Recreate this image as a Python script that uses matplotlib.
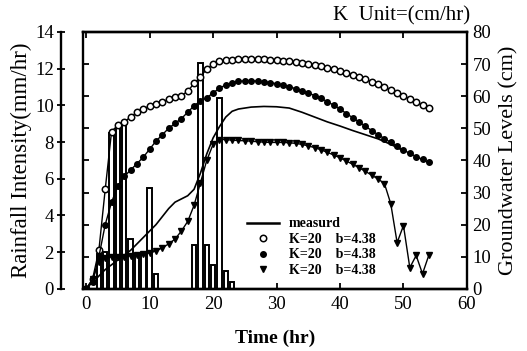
import matplotlib
matplotlib.use("Agg")
import matplotlib.pyplot as plt
from matplotlib.lines import Line2D

plt.rcParams["font.family"] = ["Liberation Serif", "DejaVu Serif"]

# Hourly rainfall (mm/hr)
rain_hours = [2, 3, 4, 5, 6, 7, 8, 9, 10, 11, 17, 18, 19, 20, 21, 22, 23]
rain_mm = [1.9, 2.0, 8.5, 8.9, 9.1, 2.7, 1.9, 1.9, 5.5, 0.8,
           2.4, 12.3, 2.4, 1.3, 10.4, 1.0, 0.4]

# Measured groundwater level (cm)
meas_t = [1, 2, 3, 4, 5, 6, 7, 8, 9, 10, 11, 12, 13, 14, 15, 16, 17, 18, 19,
          20, 21, 22, 23, 24, 26, 28, 30, 32, 34, 36, 38, 40, 42, 44, 46, 48, 50]
meas_gw = [2, 4, 6, 7.5, 9, 10.5, 12, 14, 16, 18, 20, 22.5, 25, 27, 28, 29,
           31, 36, 42, 47, 50.5, 53.5, 55.3, 56, 56.6, 56.8, 56.7, 56.3, 55,
           53.5, 52, 50.7, 49.3, 48, 46.7, 45, 43]

# Simulated groundwater levels (cm), hourly from t = 0
sim_t = list(range(0, 55))
sim_open = [0, 3, 12, 31, 49, 51, 52, 53.5, 55, 56, 57, 57.7, 58.3, 59, 59.6,
            60.2, 61.5, 64, 66, 68.5, 70, 70.8, 71.2, 71.4, 71.5, 71.6, 71.6,
            71.6, 71.5, 71.4, 71.3, 71.1, 70.9, 70.7, 70.4, 70.1, 69.7, 69.3,
            68.9, 68.4, 67.9, 67.3, 66.7, 66, 65.3, 64.5, 63.7, 62.9, 62, 61.1,
            60.1, 59.2, 58.2, 57.2, 56.2]
sim_fill = [0, 2, 10, 20, 27, 32, 35, 37, 39, 41, 43.5, 46, 48, 50, 51.5, 53,
            55, 57, 58.5, 59.5, 61, 62.5, 63.5, 64.2, 64.6, 64.8, 64.8, 64.7,
            64.5, 64.2, 63.9, 63.5, 63.0, 62.3, 61.7, 61, 60.2, 59.3, 58.3,
            57.2, 56, 54.6, 53.3, 52, 50.6, 49.3, 48, 46.8, 45.6, 44.4, 43.2,
            42.2, 41.2, 40.3, 39.4]
sim_tri = [0, 3, 8.5, 9.5, 10, 10, 10, 10.3, 10.5, 10.8, 11.2, 11.8, 12.8, 14,
           15.5, 18, 21, 26, 33, 40, 45, 46.5, 46.5, 46.3, 46.2, 46.1, 46,
           45.8, 45.7, 45.6, 45.6, 45.6, 45.5, 45.3, 45, 44.5, 44, 43.3, 42.5,
           41.7, 40.8, 39.8, 38.8, 37.7, 36.6, 35.4, 34.2, 32.8, 26.5, 14.4,
           19.7, 6.6, 10.4, 4.7, 10.5]

legend_labels = ["measurd", "K=20    b=4.38", "K=20    b=4.38",
                 "K=20    b=4.38"]

x_ticks = [0, 10, 20, 30, 40, 50, 60]
rain_ticks = [0, 2, 4, 6, 8, 10, 12, 14]
gw_ticks = [0, 10, 20, 30, 40, 50, 60, 70, 80]

fig = plt.figure(figsize=(5.27, 3.51), dpi=100)
ax = fig.add_axes([0.1575, 0.177, 0.7285, 0.732])
ax2 = ax.twinx()

# Rainfall bars (hollow)
ax.bar(rain_hours, rain_mm, width=0.7, facecolor="white", edgecolor="black",
       linewidth=1.4, zorder=2)
ax.set_xlim(-0.5, 60)
ax.set_ylim(0, 14)
ax.set_xticks(x_ticks)
ax.set_yticks(rain_ticks)
ax.spines["left"].set_position(("outward", 16))
ax.spines["right"].set_visible(False)
for s in ["left", "bottom", "top"]:
    ax.spines[s].set_linewidth(1.7)
ax.tick_params(axis="y", direction="inout", length=6, width=1.3,
               labelsize=13.5, pad=2)
ax.tick_params(axis="x", direction="in", length=4, width=1.3, top=True,
               labelsize=13.5, pad=5)
ax.set_ylabel("Rainfall Intensity(mm/hr)", fontsize=16.5, labelpad=2)
ax.set_xlabel("Time (hr)", fontsize=14, fontweight="bold", labelpad=12)

# Groundwater level curves
ax2.plot(meas_t, meas_gw, color="black", linewidth=1.2)
ax2.plot(sim_t, sim_open, color="black", linewidth=1.0, marker="o",
         markersize=4.6, markerfacecolor="white", markeredgewidth=1.1)
ax2.plot(sim_t, sim_fill, color="black", linewidth=1.0, marker="o",
         markersize=4.0)
ax2.plot(sim_t, sim_tri, color="black", linewidth=1.0, marker="v",
         markersize=4.6)
ax2.set_ylim(0, 80)
ax2.set_yticks(gw_ticks)
for s in ["left", "right", "top", "bottom"]:
    ax2.spines[s].set_linewidth(1.7)
ax2.tick_params(axis="y", direction="in", length=4, width=1.3, left=True,
                right=True, labelleft=False, labelright=True, labelsize=13.5,
                pad=4)
ax2.set_ylabel("Groundwater Levels (cm)", fontsize=16, labelpad=6)

handles = [
    Line2D([], [], color="black", linewidth=1.8),
    Line2D([], [], color="black", linestyle="none", marker="o",
           markersize=4.6, markerfacecolor="white", markeredgewidth=1.1),
    Line2D([], [], color="black", linestyle="none", marker="o",
           markersize=4.0),
    Line2D([], [], color="black", linestyle="none", marker="v",
           markersize=4.6),
]
leg = ax2.legend(handles, legend_labels, loc="upper left",
                 bbox_to_anchor=(0.41, 0.305), frameon=False, fontsize=10,
                 handlelength=2.3, handletextpad=0.7, labelspacing=0.18,
                 borderpad=0)
for t in leg.get_texts():
    t.set_fontweight("bold")

fig.text(0.893, 0.955, "K  Unit=(cm/hr)", fontsize=15, ha="right",
         va="center")

fig.savefig("out.png", dpi=100, facecolor="white")
